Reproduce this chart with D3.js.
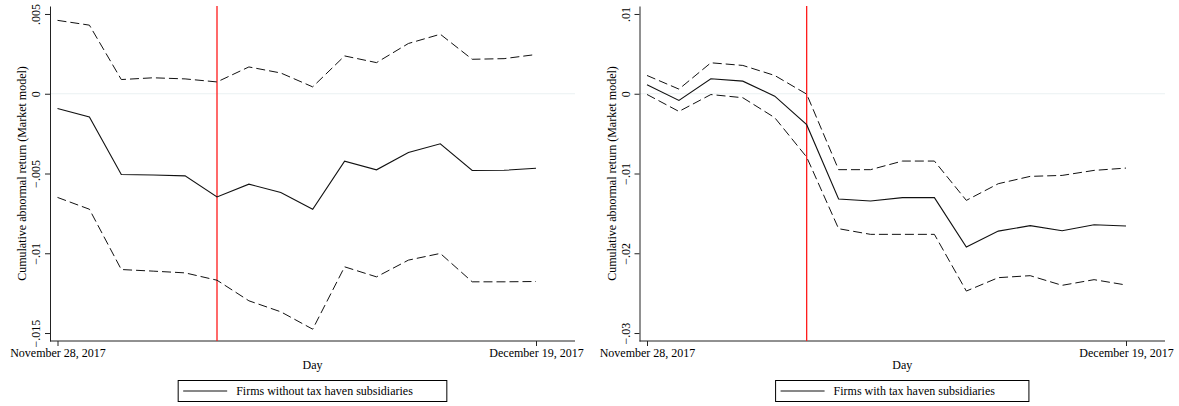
<!DOCTYPE html>
<html lang="en">

<head>
    <meta charset="UTF-8">
    <title>Cumulative abnormal returns</title>
    <style>
        body { margin: 0; background: #fff; }
        svg text { font-family: "Liberation Serif", "DejaVu Serif", serif; fill: #000; }
    </style>
</head>

<body>
    <div id="chart"></div>
    <script src="https://d3js.org/d3.v7.min.js"></script>

    <script>
        const WIDTH = 1179;
        const HEIGHT = 406;

        // trading days in the event window
        const DAYS = ["Nov 28", "Nov 29", "Nov 30", "Dec 1", "Dec 4", "Dec 5", "Dec 6", "Dec 7",
            "Dec 8", "Dec 11", "Dec 12", "Dec 13", "Dec 14", "Dec 15", "Dec 18", "Dec 19"];
        const X_TICK_LABELS = ["November 28, 2017", "December 19, 2017"];
        const EVENT_DAY = 5;

        // left panel: firms without tax haven subsidiaries
        const CAR_NO_HAVEN = [-0.00093, -0.00145, -0.00506, -0.00509, -0.00515, -0.00647, -0.00567, -0.00619,
            -0.00724, -0.00423, -0.00477, -0.00368, -0.00314, -0.00481, -0.00480, -0.00467];
        const UPPER_NO_HAVEN = [0.00460, 0.00430, 0.00089, 0.00100, 0.00093, 0.00074, 0.00168, 0.00130,
            0.00043, 0.00237, 0.00195, 0.00315, 0.00373, 0.00216, 0.00220, 0.00246];
        const LOWER_NO_HAVEN = [-0.00650, -0.00724, -0.01102, -0.01112, -0.01123, -0.01169, -0.01298, -0.01367,
            -0.01476, -0.01085, -0.01148, -0.01043, -0.01001, -0.01179, -0.01179, -0.01177];
        const TICKS_NO_HAVEN = [0.005, 0, -0.005, -0.01, -0.015];

        // right panel: firms with tax haven subsidiaries
        const CAR_HAVEN = [0.00113, -0.00084, 0.00188, 0.00158, -0.00030, -0.00388, -0.01320, -0.01345,
            -0.01303, -0.01303, -0.01922, -0.01722, -0.01654, -0.01717, -0.01642, -0.01659];
        const UPPER_HAVEN = [0.00229, 0.00058, 0.00388, 0.00355, 0.00229, -0.00005, -0.00952, -0.00952,
            -0.00844, -0.00844, -0.01337, -0.01128, -0.01036, -0.01024, -0.00961, -0.00932];
        const LOWER_HAVEN = [-0.00009, -0.00222, -0.00010, -0.00050, -0.00300, -0.00794, -0.01692, -0.01763,
            -0.01763, -0.01763, -0.02474, -0.02306, -0.02281, -0.02402, -0.02331, -0.02398];
        const TICKS_HAVEN = [0.01, 0, -0.01, -0.02, -0.03];

        const svg = d3.select("#chart")
            .append("svg")
            .attr("width", WIDTH)
            .attr("height", HEIGHT);

        const fmt = v => v === 0 ? "0" : (v < 0 ? "\u2212" : "") + String(Math.abs(v)).replace(/^0/, "");

        function panel(opts) {
            const { left, right, top, bottom } = opts;
            const g = svg.append("g");

            const x = d3.scaleLinear()
                .domain([0, DAYS.length - 1])
                .range([left + 7.5, right - 39]);
            const y = d3.scaleLinear()
                .domain(opts.yDomain)
                .range([bottom, top]);

            // grid line at zero
            g.append("line")
                .attr("x1", left).attr("x2", right)
                .attr("y1", y(0)).attr("y2", y(0))
                .attr("stroke", "#eaf1f2")
                .attr("stroke-width", 1.2);

            const yAxis = g.append("g")
                .attr("transform", `translate(${left},0)`)
                .call(d3.axisLeft(y).tickValues(opts.ticks).tickFormat(fmt).tickSize(5).tickSizeOuter(0));
            yAxis.select(".domain").attr("stroke", "#222");
            yAxis.selectAll(".tick line").attr("stroke", "#222");
            yAxis.selectAll(".tick text")
                .attr("font-size", 12)
                .attr("text-anchor", "middle")
                .attr("x", 0).attr("dy", 0)
                .attr("transform", "translate(-10,0) rotate(-90)");

            const xAxis = g.append("g")
                .attr("transform", `translate(0,${bottom})`)
                .call(d3.axisBottom(x).tickValues([0, DAYS.length - 1])
                    .tickFormat((d, i) => X_TICK_LABELS[i]).tickSize(5).tickSizeOuter(0));
            xAxis.select(".domain").attr("stroke", "#222").attr("d", `M${left},0H${right}`);
            xAxis.selectAll(".tick line").attr("stroke", "#222");
            xAxis.selectAll(".tick text").attr("font-size", 12).attr("y", 7);

            g.append("text")
                .attr("transform", `translate(${left - 24},${(top + bottom) / 2}) rotate(-90)`)
                .attr("text-anchor", "middle")
                .attr("font-size", 12)
                .text("Cumulative abnormal return (Market model)");

            g.append("text")
                .attr("x", (left + right) / 2)
                .attr("y", 369)
                .attr("text-anchor", "middle")
                .attr("font-size", 12)
                .text("Day");

            // event day
            g.append("line")
                .attr("x1", x(EVENT_DAY)).attr("x2", x(EVENT_DAY))
                .attr("y1", top).attr("y2", bottom)
                .attr("stroke", "#ff1a1a")
                .attr("stroke-width", 1.3);

            const line = d3.line()
                .x((d, i) => x(i))
                .y(d => y(d));

            [opts.upper, opts.lower].forEach(s => {
                g.append("path")
                    .datum(s)
                    .attr("d", line)
                    .attr("fill", "none")
                    .attr("stroke", "#111")
                    .attr("stroke-width", 1)
                    .attr("stroke-dasharray", "9,4");
            });
            g.append("path")
                .datum(opts.car)
                .attr("d", line)
                .attr("fill", "none")
                .attr("stroke", "#111")
                .attr("stroke-width", 1.1);

            // legend
            const legend = g.append("g");
            const legText = legend.append("text")
                .attr("y", 395)
                .attr("font-size", 12)
                .text(opts.label);
            const tw = legText.node().getComputedTextLength();
            const boxW = tw + 92;
            const bx = (left + right) / 2 - boxW / 2;
            legend.insert("rect", "text")
                .attr("x", bx).attr("y", 380.5)
                .attr("width", boxW).attr("height", 21)
                .attr("fill", "#fff")
                .attr("stroke", "#000");
            legend.append("line")
                .attr("x1", bx + 5).attr("x2", bx + 49)
                .attr("y1", 391).attr("y2", 391)
                .attr("stroke", "#111");
            legText.attr("x", bx + 58);
        }

        panel({
            left: 50, right: 575, top: 6, bottom: 341,
            yDomain: [-0.0155, 0.0055], ticks: TICKS_NO_HAVEN,
            car: CAR_NO_HAVEN, upper: UPPER_NO_HAVEN, lower: LOWER_NO_HAVEN,
            label: "Firms without tax haven subsidiaries"
        });

        panel({
            left: 639.5, right: 1165, top: 6, bottom: 341,
            yDomain: [-0.031, 0.011], ticks: TICKS_HAVEN,
            car: CAR_HAVEN, upper: UPPER_HAVEN, lower: LOWER_HAVEN,
            label: "Firms with tax haven subsidiaries"
        });
    </script>
</body>

</html>
